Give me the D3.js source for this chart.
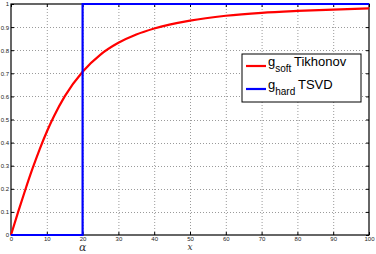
<!DOCTYPE html>
<html>
<head>
<meta charset="utf-8">
<script src="https://d3js.org/d3.v7.min.js"></script>
<style>
  body { margin: 0; background: #fff; }
  svg { display: block; }
</style>
</head>
<body>
<svg id="chart"></svg>
<script>
var width = 376;
var height = 254;
var margin = {left: 11, right: 7, top: 4, bottom: 19};

// data
var softX = [0, 2, 4, 6, 8, 10, 12, 15, 20, 25, 30, 35, 40, 50, 60, 70, 80, 90, 100];
var softY = [0, 0.10, 0.196, 0.287, 0.371, 0.447, 0.514, 0.60, 0.707, 0.781, 0.832, 0.868, 0.894, 0.928, 0.949, 0.962, 0.970, 0.976, 0.981];
var hardX = [0, 20, 20, 100];
var hardY = [0, 0, 1, 1];
var xTicks = [0, 10, 20, 30, 40, 50, 60, 70, 80, 90, 100];
var yTicks = [0, 0.1, 0.2, 0.3, 0.4, 0.5, 0.6, 0.7, 0.8, 0.9, 1];
var legendNames = [['g', 'soft', 'Tikhonov'], ['g', 'hard', 'TSVD']];
var colors = ['#ff0000', '#0000ff'];

var svg = d3.select('#chart')
  .attr('width', width)
  .attr('height', height);

var x = d3.scaleLinear().domain([0, 100]).range([margin.left, width - margin.right]);
var y = d3.scaleLinear().domain([0, 1]).range([height - margin.bottom, margin.top]);

// grid
svg.append('g').selectAll('line.gx')
  .data(xTicks.slice(1, -1))
  .enter().append('line')
    .attr('x1', function(d) { return x(d) + 0.5; })
    .attr('x2', function(d) { return x(d) + 0.5; })
    .attr('y1', y(0)).attr('y2', y(1))
    .attr('stroke', '#9a9a9a')
    .attr('stroke-dasharray', '1,2');

svg.append('g').selectAll('line.gy')
  .data(yTicks.slice(1, -1))
  .enter().append('line')
    .attr('y1', function(d) { return Math.round(y(d)) + 0.5; })
    .attr('y2', function(d) { return Math.round(y(d)) + 0.5; })
    .attr('x1', x(0)).attr('x2', x(100))
    .attr('stroke', '#9a9a9a')
    .attr('stroke-dasharray', '1,2');

// axes (matlab box, ticks inward)
var axisStyle = function(g) {
  g.select('.domain').remove();
  g.selectAll('.tick line').attr('stroke', '#000');
  g.selectAll('.tick text')
    .attr('font-family', 'Liberation Sans, Arial, sans-serif')
    .attr('font-size', 6)
    .attr('fill', '#222');
};

svg.append('g')
  .attr('transform', 'translate(0,' + y(0) + ')')
  .call(d3.axisBottom(x).tickValues(xTicks).tickSize(-3).tickPadding(2).tickFormat(d3.format('d')))
  .call(axisStyle);

svg.append('g')
  .attr('transform', 'translate(0,' + y(1) + ')')
  .call(d3.axisTop(x).tickValues(xTicks).tickSize(-3).tickFormat(''))
  .call(axisStyle);

svg.append('g')
  .attr('transform', 'translate(' + x(0) + ',0)')
  .call(d3.axisLeft(y).tickValues(yTicks).tickSize(-3).tickPadding(2).tickFormat(function(d) { return d3.format('')(+d.toFixed(1)); }))
  .call(axisStyle);

svg.append('g')
  .attr('transform', 'translate(' + x(100) + ',0)')
  .call(d3.axisRight(y).tickValues(yTicks).tickSize(-3).tickFormat(''))
  .call(axisStyle);

svg.append('rect')
  .attr('x', x(0)).attr('y', y(1))
  .attr('width', x(100) - x(0)).attr('height', y(0) - y(1))
  .attr('fill', 'none')
  .attr('stroke', '#000')
  .attr('stroke-width', 1.2);

// lines
var line = d3.line()
  .x(function(d) { return x(d[0]); })
  .y(function(d) { return y(d[1]); });

svg.append('path')
  .datum(softX.map(function(v, i) { return [v, softY[i]]; }))
  .attr('d', line.curve(d3.curveMonotoneX))
  .attr('fill', 'none')
  .attr('stroke', colors[0])
  .attr('stroke-width', 2.2);

svg.append('path')
  .datum(hardX.map(function(v, i) { return [v, hardY[i]]; }))
  .attr('d', line.curve(d3.curveLinear))
  .attr('fill', 'none')
  .attr('stroke', colors[1])
  .attr('stroke-width', 2.2);

// axis labels
svg.append('text')
  .attr('x', x(20)).attr('y', 251)
  .attr('text-anchor', 'middle')
  .attr('font-family', 'DejaVu Serif, serif')
  .attr('font-style', 'italic')
  .attr('font-size', 11)
  .attr('fill', '#333')
  .text('α');

svg.append('text')
  .attr('x', x(50)).attr('y', 250)
  .attr('text-anchor', 'middle')
  .attr('font-family', 'DejaVu Serif, serif')
  .attr('font-style', 'italic')
  .attr('font-size', 9)
  .attr('fill', '#333')
  .text('x');

// legend
var legend = svg.append('g').attr('transform', 'translate(242,54)');
legend.append('rect')
  .attr('width', 119).attr('height', 48)
  .attr('fill', '#fff')
  .attr('stroke', '#000')
  .attr('stroke-width', 1);

var items = legend.selectAll('g.item')
  .data(legendNames)
  .enter().append('g')
    .attr('transform', function(d, i) { return 'translate(0,' + (12 + i * 23) + ')'; });

items.append('line')
  .attr('x1', 4).attr('x2', 24)
  .attr('stroke', function(d, i) { return colors[i]; })
  .attr('stroke-width', 2.2);

var txt = items.append('text')
  .attr('x', 26).attr('y', 0)
  .attr('font-family', 'Liberation Sans, Arial, sans-serif')
  .attr('font-size', 13)
  .attr('fill', '#000');
txt.append('tspan').text(function(d) { return d[0]; });
txt.append('tspan').attr('dy', 6).attr('font-size', 10).text(function(d) { return d[1]; });
txt.append('tspan').attr('dy', -6)
  .attr('x', function(d, i) { return i === 0 ? 52 : 56; })
  .text(function(d) { return d[2]; });
</script>
</body>
</html>
